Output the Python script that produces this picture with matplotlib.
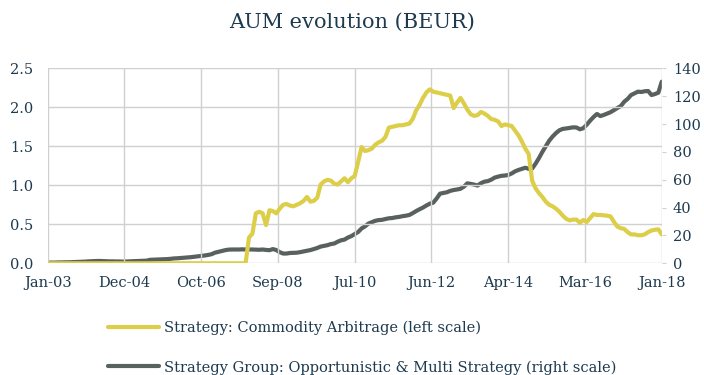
import matplotlib
matplotlib.use("Agg")
import matplotlib.pyplot as plt
import numpy as np

# Monthly AUM, Jan-03 .. Jan-18 (181 months)
commodity_arbitrage = [0.0] * 59 + [
    0.33, 0.38, 0.64, 0.66, 0.64, 0.49, 0.68, 0.67, 0.64, 0.70,
    0.75, 0.76, 0.74, 0.73, 0.75, 0.77, 0.80, 0.85, 0.79, 0.80,
    0.84, 1.01, 1.05, 1.07, 1.06, 1.02, 1.01, 1.05, 1.09, 1.04,
    1.09, 1.12, 1.30, 1.49, 1.44, 1.45, 1.47, 1.52, 1.55, 1.57,
    1.62, 1.74, 1.75, 1.76, 1.77, 1.77, 1.78, 1.79, 1.85, 1.96,
    2.03, 2.12, 2.19, 2.23, 2.20, 2.19, 2.18, 2.17, 2.16, 2.15,
    1.99, 2.06, 2.12, 2.05, 1.97, 1.91, 1.89, 1.90, 1.94, 1.92,
    1.89, 1.85, 1.84, 1.82, 1.76, 1.78, 1.77, 1.76, 1.70, 1.64,
    1.56, 1.47, 1.40, 1.06, 0.96, 0.90, 0.85, 0.79, 0.75, 0.73,
    0.70, 0.66, 0.61, 0.57, 0.55, 0.56, 0.56, 0.52, 0.555, 0.53,
    0.58, 0.63, 0.62, 0.62, 0.615, 0.61, 0.60, 0.53, 0.47, 0.45,
    0.44, 0.40, 0.37, 0.37, 0.36, 0.36, 0.37, 0.40, 0.42, 0.43,
    0.435, 0.37,
]

opportunistic_multi = [
    0.5, 0.5, 0.5, 0.6, 0.6, 0.7, 0.7, 0.8, 0.9, 1.0, 1.1,
    1.2, 1.4, 1.5, 1.6, 1.7, 1.6, 1.5, 1.4, 1.4, 1.3, 1.3, 1.2,
    1.3, 1.4, 1.5, 1.6, 1.7, 1.8, 1.9, 2.5, 2.6, 2.7,
    2.8, 2.9, 3.0, 3.2, 3.5, 3.6, 3.8, 4.0, 4.2, 4.4, 4.7, 5.0,
    5.3, 5.6, 6.0, 6.5, 7.6, 8.2, 8.8, 9.4, 9.8,
    9.9, 9.9, 9.9, 10.0, 9.9, 9.9, 9.9, 9.8, 9.7, 9.9, 9.6, 9.4,
    10.2, 9.5, 8.0, 7.0, 7.0, 7.4, 7.5, 7.6, 8.0, 8.5, 9.0, 9.5, 10.2, 11.0, 12.0,
    12.5, 13.0, 13.8, 14.2, 15.5, 16.5, 17.0, 18.5, 19.5, 21.0, 22.5, 25.0, 26.5, 28.5,
    29.5, 30.5, 31.0, 31.2, 31.8, 32.3, 32.5, 33.0, 33.3, 33.8, 34.2, 34.7, 36.0, 37.5, 38.8, 40.0,
    41.5, 42.8, 43.5, 46.5, 50.0, 50.5, 51.0, 52.0, 52.6, 53.0, 53.5, 55.0, 57.4, 57.0, 56.5,
    55.8, 57.5, 58.6, 59.0, 60.0, 61.5, 62.2, 62.8, 63.0, 63.4, 64.5, 66.0, 67.0, 67.8, 68.6, 67.8,
    68.0, 71.5, 75.5, 80.0, 84.0, 88.0, 91.0, 93.5, 95.5, 96.5, 96.8, 97.2, 97.6, 97.5, 96.2,
    97.0, 99.5, 102.4, 105.0, 107.2, 105.7, 106.5, 107.5, 108.5, 110.0, 111.5, 112.9,
    116.0, 118.0, 120.8, 122.0, 123.2, 123.0, 123.5, 123.7, 120.8, 121.5, 122.5, 130.4,
]

x_tick_labels = ["Jan-03", "Dec-04", "Oct-06", "Sep-08", "Jul-10",
                 "Jun-12", "Apr-14", "Mar-16", "Jan-18"]
left_ticks = [0.0, 0.5, 1.0, 1.5, 2.0, 2.5]
right_ticks = [0, 20, 40, 60, 80, 100, 120, 140]

label_ca = "Strategy: Commodity Arbitrage (left scale)"
label_om = "Strategy Group: Opportunistic & Multi Strategy (right scale)"

TEXT = "#1d3a4f"
GRID = "#d0d0d0"
YELLOW = "#ddce4a"
GREY = "#59615e"
FONT = "DejaVu Serif"

plt.rcParams["font.family"] = FONT

fig = plt.figure(figsize=(7.04, 3.75), dpi=100)
ax = fig.add_axes([0.0678, 0.2979, 0.8722, 0.52])
ax2 = ax.twinx()

months = np.arange(len(opportunistic_multi))
l2, = ax2.plot(months, opportunistic_multi, color=GREY, lw=3.0,
               solid_capstyle="round", solid_joinstyle="round")
l1, = ax.plot(months, commodity_arbitrage, color=YELLOW, lw=3.0,
              solid_capstyle="round", solid_joinstyle="round")
ax.set_zorder(ax2.get_zorder() + 1)
ax.patch.set_visible(False)

ax.set_xlim(0, months[-1])
ax.set_ylim(0, 2.5)
ax2.set_ylim(0, 140)

ax.set_xticks(np.linspace(0, months[-1], len(x_tick_labels)))
ax.set_xticklabels(x_tick_labels)
ax.set_yticks(left_ticks)
ax.set_yticklabels([f"{v:.1f}" for v in left_ticks])
ax2.set_yticks(right_ticks)

ax.grid(True, color=GRID, lw=1.0)
ax.set_axisbelow(True)
ax2.grid(False)

for a in (ax, ax2):
    for s in a.spines.values():
        s.set_visible(False)

ax.tick_params(axis="x", length=0, pad=9, labelsize=10.5, labelcolor=TEXT)
ax.tick_params(axis="y", length=0, pad=10.5, labelsize=10.5, labelcolor=TEXT)
ax2.tick_params(axis="y", length=3, color=GRID, pad=5, labelsize=10.5, labelcolor=TEXT)

fig.text(0.5, 0.94, "AUM evolution (BEUR)", ha="center", va="center",
         fontsize=15, color=TEXT)

fig.legend([l1, l2], [label_ca, label_om], loc="upper left",
           bbox_to_anchor=(0.153, 0.144), frameon=False, fontsize=10.5,
           handlelength=3.5, handletextpad=0.35, labelspacing=1.7,
           labelcolor=TEXT, borderaxespad=0, borderpad=0)

fig.savefig("out.png", dpi=100)
